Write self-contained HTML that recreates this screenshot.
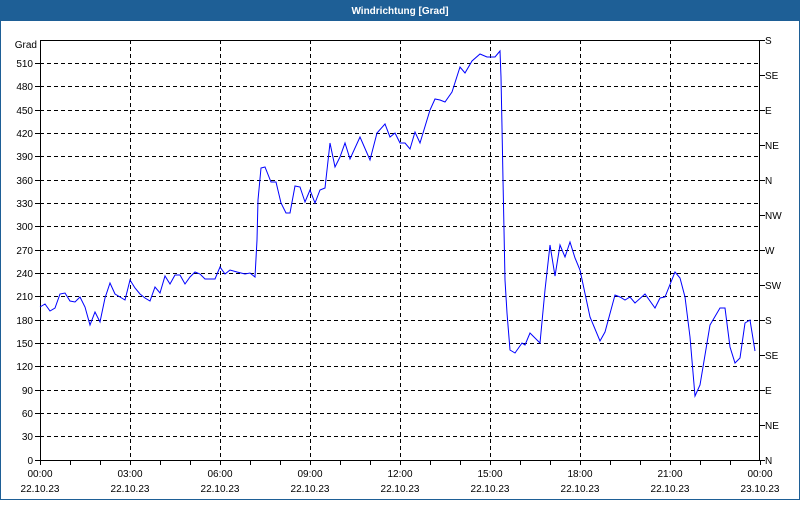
<!DOCTYPE html>
<html><head><meta charset="utf-8"><style>
html,body{margin:0;padding:0;background:#fff}
body{width:800px;height:500px;overflow:hidden;font-family:"Liberation Sans",sans-serif}
</style></head><body>
<svg width="800" height="500" xmlns="http://www.w3.org/2000/svg" font-family="Liberation Sans, sans-serif" font-size="10">
<rect x="0" y="0" width="800" height="500" fill="#fff"/>
<rect x="0.5" y="0.5" width="799" height="499" fill="none" stroke="#1e5f96" stroke-width="1"/>
<rect x="0" y="0" width="800" height="21" fill="#1e5f96"/>
<text x="400" y="14" fill="#fff" font-weight="bold" font-size="10" text-anchor="middle">Windrichtung [Grad]</text>
<g stroke="#000" stroke-dasharray="4,3" stroke-width="1">
<line x1="40" x2="760" y1="63.5" y2="63.5"/><line x1="40" x2="760" y1="86.5" y2="86.5"/><line x1="40" x2="760" y1="110.5" y2="110.5"/><line x1="40" x2="760" y1="133.5" y2="133.5"/><line x1="40" x2="760" y1="156.5" y2="156.5"/><line x1="40" x2="760" y1="180.5" y2="180.5"/><line x1="40" x2="760" y1="203.5" y2="203.5"/><line x1="40" x2="760" y1="226.5" y2="226.5"/><line x1="40" x2="760" y1="250.5" y2="250.5"/><line x1="40" x2="760" y1="273.5" y2="273.5"/><line x1="40" x2="760" y1="296.5" y2="296.5"/><line x1="40" x2="760" y1="320.5" y2="320.5"/><line x1="40" x2="760" y1="343.5" y2="343.5"/><line x1="40" x2="760" y1="366.5" y2="366.5"/><line x1="40" x2="760" y1="390.5" y2="390.5"/><line x1="40" x2="760" y1="413.5" y2="413.5"/><line x1="40" x2="760" y1="436.5" y2="436.5"/>
<line x1="130.5" x2="130.5" y1="40" y2="460"/><line x1="220.5" x2="220.5" y1="40" y2="460"/><line x1="310.5" x2="310.5" y1="40" y2="460"/><line x1="400.5" x2="400.5" y1="40" y2="460"/><line x1="490.5" x2="490.5" y1="40" y2="460"/><line x1="580.5" x2="580.5" y1="40" y2="460"/><line x1="670.5" x2="670.5" y1="40" y2="460"/>
</g>
<rect x="40.5" y="40.5" width="719" height="420" fill="none" stroke="#000"/>
<g stroke="#000">
<path d="M70.5 460v5M100.5 460v5M130.5 460v5M160.5 460v5M190.5 460v5M220.5 460v5M250.5 460v5M280.5 460v5M310.5 460v5M340.5 460v5M370.5 460v5M400.5 460v5M430.5 460v5M460.5 460v5M490.5 460v5M520.5 460v5M550.5 460v5M580.5 460v5M610.5 460v5M640.5 460v5M670.5 460v5M700.5 460v5M730.5 460v5M40.5 460v5M760.5 460v5"/>
<path d="M35 63.5h5M35 86.5h5M35 110.5h5M35 133.5h5M35 156.5h5M35 180.5h5M35 203.5h5M35 226.5h5M35 250.5h5M35 273.5h5M35 296.5h5M35 320.5h5M35 343.5h5M35 366.5h5M35 390.5h5M35 413.5h5M35 436.5h5M35 460.5h5"/>
<path d="M760 40.5h5M760 75.5h5M760 110.5h5M760 145.5h5M760 180.5h5M760 215.5h5M760 250.5h5M760 285.5h5M760 320.5h5M760 355.5h5M760 390.5h5M760 425.5h5M760 460.5h5"/>
</g>
<g fill="#000" text-anchor="end">
<text x="37" y="48">Grad</text>
<text x="33" y="67">510</text><text x="33" y="90">480</text><text x="33" y="114">450</text><text x="33" y="137">420</text><text x="33" y="160">390</text><text x="33" y="184">360</text><text x="33" y="207">330</text><text x="33" y="230">300</text><text x="33" y="254">270</text><text x="33" y="277">240</text><text x="33" y="300">210</text><text x="33" y="324">180</text><text x="33" y="347">150</text><text x="33" y="370">120</text><text x="33" y="394">90</text><text x="33" y="417">60</text><text x="33" y="440">30</text><text x="33" y="464">0</text>
</g>
<g fill="#000">
<text x="765" y="44">S</text><text x="765" y="79">SE</text><text x="765" y="114">E</text><text x="765" y="149">NE</text><text x="765" y="184">N</text><text x="765" y="219">NW</text><text x="765" y="254">W</text><text x="765" y="289">SW</text><text x="765" y="324">S</text><text x="765" y="359">SE</text><text x="765" y="394">E</text><text x="765" y="429">NE</text><text x="765" y="464">N</text>
</g>
<g fill="#000" text-anchor="middle">
<text x="40" y="477">00:00</text><text x="130" y="477">03:00</text><text x="220" y="477">06:00</text><text x="310" y="477">09:00</text><text x="400" y="477">12:00</text><text x="490" y="477">15:00</text><text x="580" y="477">18:00</text><text x="670" y="477">21:00</text><text x="760" y="477">00:00</text>
<text x="40" y="492">22.10.23</text><text x="130" y="492">22.10.23</text><text x="220" y="492">22.10.23</text><text x="310" y="492">22.10.23</text><text x="400" y="492">22.10.23</text><text x="490" y="492">22.10.23</text><text x="580" y="492">22.10.23</text><text x="670" y="492">22.10.23</text><text x="760" y="492">23.10.23</text>
</g>
<polyline fill="none" stroke="#0000ff" stroke-width="1" points="40,307 45,304 50,311 55,308 60,294 65,293 70,301 75,302 80,297 85,307 90,325 95,312 100,322 105,298 110,283 115,294 120,297 125,300 130,280 135,288 140,294 145,298 150,301 155,287 160,293 165,276 170,284 175,275 180,275 185,284 190,277 195,272 200,274 205,279 215,279 220,267 225,274 230,270 237,272 245,274 250,273 255,277 257,240 258,200 261,168 265,167 271,182 276,182 281,203 286,213 290,213 295,186 300,187 305,202 310,190 315,203 320,190 325,188 330,143 335,167 340,157 345,143 350,159 360,137 370,160 377,133 385,124 390,137 395,133 400,143 405,143 410,149 415,132 420,143 430,110 435,99 440,100 445,102 452,92 460,67 465,73 472,61 480,54 487,57 495,57 500,51 501,77 502,127 503,180 504,230 505,280 507,313 510,350 515,353 522,343 525,345 530,333 540,343 545,290 550,245 555,276 560,245 565,257 570,242 575,258 580,270 590,317 600,341 605,332 615,295 620,297 625,300 630,297 635,303 645,294 655,308 660,298 665,297 675,272 680,278 685,297 690,337 695,396 700,385 710,325 720,308 725,308 730,347 735,363 740,358 745,323 750,320 755,351"/>
</svg>
</body></html>
